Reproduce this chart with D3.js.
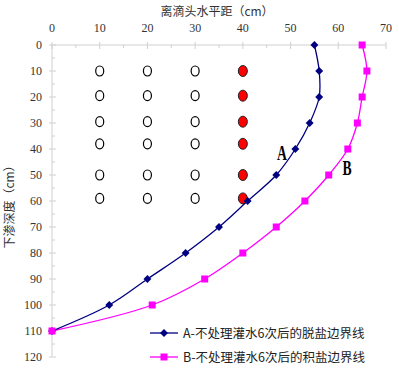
<!DOCTYPE html>
<html>
<head>
<meta charset="utf-8">
<script src="https://cdn.jsdelivr.net/npm/d3@7"></script>
<style>
  body { margin: 0; background: #fff; }
  svg { display: block; }
</style>
</head>
<body>
<div id="chart"></div>
<script>
// depth (cm) rows of the survey points
const depthA = [0, 10, 20, 30, 40, 50, 60, 70, 80, 90, 100, 110];
const distA = [55, 56, 56, 54, 51, 47, 41, 35, 28, 20, 12, 0];
const depthB = [0, 10, 20, 30, 40, 50, 60, 70, 80, 90, 100, 110];
const distB = [65, 66, 65, 64, 62, 58, 53, 47, 40, 32, 21, 0];

// sample positions (open = not salted, red = salted)
const sampleCols = [10, 20, 30];
const redCol = 40;
const sampleRows = [10, 19.5, 29.5, 38, 50, 59];

const xTicks = [0, 10, 20, 30, 40, 50, 60, 70];
const yTicks = [0, 10, 20, 30, 40, 50, 60, 70, 80, 90, 100, 110, 120];

const seriesNames = ["A-不处理灌水6次后的脱盐边界线", "B-不处理灌水6次后的积盐边界线"];
const colA = "#000080", colB = "#ff00ff";

const width = 399, height = 370;

const svg = d3.select("#chart").append("svg")
    .attr("width", width)
    .attr("height", height);

const x = d3.scaleLinear().domain([0, 70]).range([52, 386]);
const y = d3.scaleLinear().domain([0, 120]).range([45, 357]);

const axisCol = "#d0d0d0";
const numFont = "'Liberation Serif', serif";
const cjkFont = "'Noto Sans CJK SC', sans-serif";

// top axis
svg.append("line")
    .attr("x1", x(0)).attr("x2", x(70))
    .attr("y1", y(0)).attr("y2", y(0))
    .attr("stroke", axisCol);
svg.selectAll(".xmaj").data(xTicks).enter().append("line")
    .attr("x1", d => x(d)).attr("x2", d => x(d))
    .attr("y1", y(0) - 3).attr("y2", y(0) + 4)
    .attr("stroke", axisCol);
svg.selectAll(".xmin").data(d3.range(5, 70, 10)).enter().append("line")
    .attr("x1", d => x(d)).attr("x2", d => x(d))
    .attr("y1", y(0)).attr("y2", y(0) + 3)
    .attr("stroke", axisCol);
svg.selectAll(".xlab").data(xTicks).enter().append("text")
    .attr("x", d => x(d)).attr("y", 32)
    .attr("text-anchor", "middle")
    .style("font-family", numFont).style("font-size", "12px").style("fill", "#333")
    .text(d => d);

// left axis
svg.append("line")
    .attr("x1", x(0)).attr("x2", x(0))
    .attr("y1", y(0)).attr("y2", y(120))
    .attr("stroke", axisCol);
svg.selectAll(".ymaj").data(yTicks).enter().append("line")
    .attr("x1", x(0) - 3).attr("x2", x(0) + 4)
    .attr("y1", d => y(d)).attr("y2", d => y(d))
    .attr("stroke", axisCol);
svg.selectAll(".ymin").data(d3.range(5, 120, 10)).enter().append("line")
    .attr("x1", x(0)).attr("x2", x(0) + 3)
    .attr("y1", d => y(d)).attr("y2", d => y(d))
    .attr("stroke", axisCol);
svg.selectAll(".ylab").data(yTicks).enter().append("text")
    .attr("x", 42).attr("y", d => y(d) + 4)
    .attr("text-anchor", "end")
    .style("font-family", numFont).style("font-size", "12px").style("fill", "#333")
    .text(d => d);

// axis titles
svg.append("text")
    .attr("x", 217).attr("y", 16)
    .attr("text-anchor", "middle")
    .style("font-family", cjkFont).style("font-size", "12px").style("fill", "#333")
    .text("离滴头水平距（cm）");
svg.append("text")
    .attr("transform", "translate(14,204) rotate(-90)")
    .attr("text-anchor", "middle")
    .style("font-family", cjkFont).style("font-size", "12px").style("fill", "#333")
    .text("下渗深度（cm）");

// sample points
const cells = [];
sampleRows.forEach(r => sampleCols.forEach(c => cells.push({c: c, r: r})));
svg.selectAll(".open").data(cells).enter().append("ellipse")
    .attr("cx", d => x(d.c)).attr("cy", d => y(d.r))
    .attr("rx", 4).attr("ry", 5)
    .attr("fill", "#fff").attr("stroke", "#000").attr("stroke-width", 1.2);
svg.selectAll(".red").data(sampleRows).enter().append("ellipse")
    .attr("cx", x(redCol)).attr("cy", d => y(d))
    .attr("rx", 4.5).attr("ry", 5.5)
    .attr("fill", "#ff0000").attr("stroke", "#222").attr("stroke-width", 1);

// boundary lines
const line = d3.line()
    .x(d => x(d[0])).y(d => y(d[1]))
    .curve(d3.curveCatmullRom.alpha(0.5));

const ptsA = distA.map((v, i) => [v, depthA[i]]);
const ptsB = distB.map((v, i) => [v, depthB[i]]);

svg.append("path").datum(ptsB)
    .attr("d", line).attr("fill", "none")
    .attr("stroke", colB).attr("stroke-width", 1.3);
svg.append("path").datum(ptsA)
    .attr("d", line).attr("fill", "none")
    .attr("stroke", colA).attr("stroke-width", 1.3);

const diamond = d3.symbol().type(d3.symbolDiamond2).size(40);
svg.selectAll(".mA").data(ptsA).enter().append("path")
    .attr("d", diamond)
    .attr("transform", d => `translate(${x(d[0])},${y(d[1])})`)
    .attr("fill", colA);
svg.selectAll(".mB").data(ptsB).enter().append("rect")
    .attr("x", d => x(d[0]) - 3.5).attr("y", d => y(d[1]) - 3.5)
    .attr("width", 7).attr("height", 7)
    .attr("fill", colB);

// curve labels
svg.append("text")
    .attr("transform", "translate(282,160) scale(0.65,1)")
    .attr("text-anchor", "middle")
    .style("font-family", numFont).style("font-weight", "bold").style("font-size", "21px")
    .text("A");
svg.append("text")
    .attr("transform", "translate(347,175) scale(0.65,1)")
    .attr("text-anchor", "middle")
    .style("font-family", numFont).style("font-weight", "bold").style("font-size", "21px")
    .text("B");

// legend
const legend = svg.append("g");
const legY = [333, 357];
legend.selectAll("line").data(seriesNames).enter().append("line")
    .attr("x1", 150).attr("x2", 178)
    .attr("y1", (d, i) => legY[i]).attr("y2", (d, i) => legY[i])
    .attr("stroke", (d, i) => i ? colB : colA).attr("stroke-width", 1.3);
legend.append("path")
    .attr("d", diamond)
    .attr("transform", `translate(164,${legY[0]})`)
    .attr("fill", colA);
legend.append("rect")
    .attr("x", 160.5).attr("y", legY[1] - 3.5)
    .attr("width", 7).attr("height", 7)
    .attr("fill", colB);
legend.selectAll("text").data(seriesNames).enter().append("text")
    .attr("x", 183).attr("y", (d, i) => legY[i] + 4.5)
    .style("font-family", cjkFont).style("font-size", "12.5px").style("fill", "#222")
    .text(d => d);
</script>
</body>
</html>
